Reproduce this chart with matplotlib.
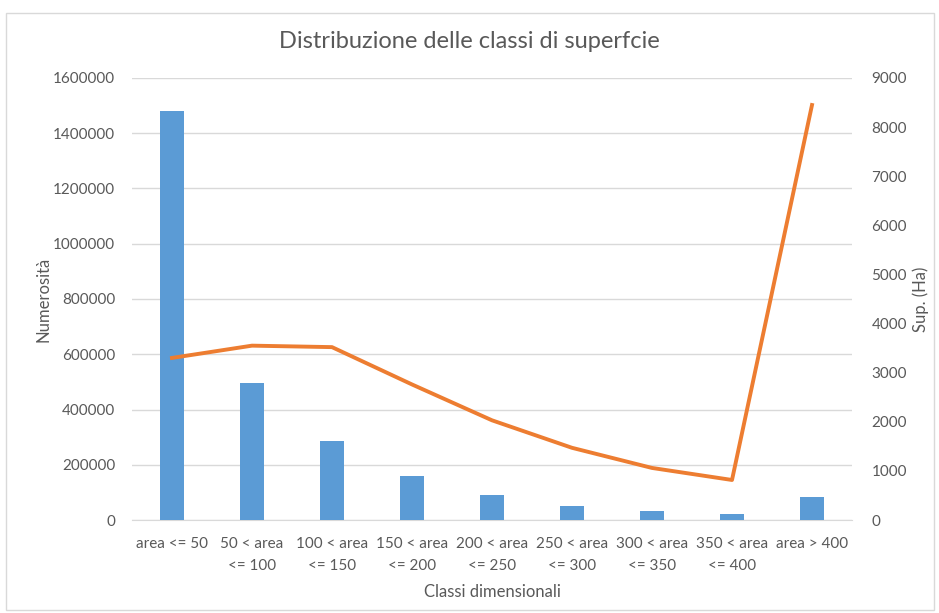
import matplotlib.pyplot as plt
from matplotlib.patches import Rectangle
from matplotlib.ticker import StrMethodFormatter

plt.rcParams['font.family'] = ['Lato', 'DejaVu Sans']

classi = ['area <= 50', '50 < area\n<= 100', '100 < area\n<= 150', '150 < area\n<= 200',
          '200 < area\n<= 250', '250 < area\n<= 300', '300 < area\n<= 350', '350 < area\n<= 400',
          'area > 400']
numerosita = [1480000, 495000, 287000, 160000, 90000, 52000, 31000, 20000, 85000]
superficie = [3300, 3550, 3520, 2760, 2030, 1470, 1060, 815, 8450]

grigio = '#595959'

fig = plt.figure(figsize=(9.39, 6.13), dpi=100)
# bordo leggero del grafico
fig.patches.append(Rectangle((6/939, 3/613), 928/939, 597/613, transform=fig.transFigure,
                             fill=False, edgecolor='#D9D9D9', linewidth=1))

ax = fig.add_axes([132/939, 1 - 520/613, 720/939, 442/613])
x = range(len(classi))
ax.bar(x, numerosita, width=0.31, color='#5B9BD5', zorder=3)
ax.set_xlim(-0.5, len(classi) - 0.5)
ax.set_ylim(0, 1600000)
ax.set_yticks(range(0, 1600001, 200000))
ax.yaxis.set_major_formatter(StrMethodFormatter('{x:.0f}'))
ax.set_xticks(list(x))
ax.set_xticklabels(classi, fontsize=11, color=grigio, linespacing=1.75)
ax.tick_params(axis='both', length=0, labelsize=11, colors=grigio)
ax.tick_params(axis='x', pad=12)
ax.tick_params(axis='y', pad=12)
ax.grid(axis='y', color='#D9D9D9', linewidth=1, zorder=0)
for s in ['top', 'right', 'left']:
    ax.spines[s].set_visible(False)
ax.spines['bottom'].set_color('#D9D9D9')
ax.set_ylabel('Numerosità', fontsize=12, color=grigio, labelpad=1)
ax.set_xlabel('Classi dimensionali', fontsize=12, color=grigio, labelpad=8)

ax2 = ax.twinx()
ax2.plot(list(x), superficie, color='#ED7D31', linewidth=2.8, zorder=4)
ax2.set_ylim(0, 9000)
ax2.set_yticks(range(0, 9001, 1000))
ax2.tick_params(axis='y', length=0, labelsize=11, colors=grigio, pad=14)
for s in ['top', 'right', 'left', 'bottom']:
    ax2.spines[s].set_visible(False)
ax2.set_ylabel('Sup. (Ha)', fontsize=12, color=grigio, labelpad=4)

fig.text(0.5, 1 - 42/613, 'Distribuzione delle classi di superfcie', ha='center', va='center',
         fontsize=17, color=grigio)

fig.savefig('out.png', dpi=100)
